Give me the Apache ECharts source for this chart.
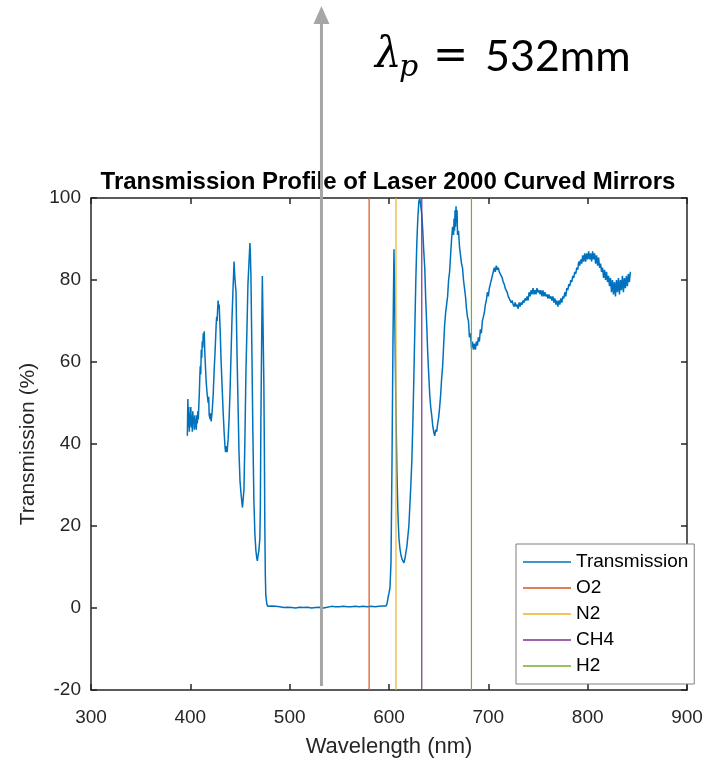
<!DOCTYPE html>
<html>
<head>
<meta charset="utf-8">
<script src="https://cdn.jsdelivr.net/npm/echarts@6/dist/echarts.min.js"></script>
<style>
  html, body { margin: 0; padding: 0; background: #ffffff; }
  #chart { width: 707px; height: 762px; }
</style>
</head>
<body>
<div id="chart"></div>
<script>
// Measured transmission of the curved mirrors: [wavelength nm, transmission %]
const transmissionCurve = [
  [397,42],[397.5,51],[398,44],[398.5,49],[399,43],[399.5,47.5],[400,44.5],[400.5,49],[401,44],[401.5,47],
  [402,43],[402.5,48],[403,45],[403.5,46.5],[404,43.5],[404.5,47],[405,44],[405.5,46],[406,43.5],[406.5,47],
  [407,45],[407.5,48],[408,46],[408.5,49],[409,52],[409.5,56],[410,59],[410.5,57],[411,63],[411.5,61],
  [412,65],[412.5,63.5],[413,67],[413.5,65.5],[414,67.5],[414.5,63],[415,60],[416,55],[417,52],[418,50],
  [418.5,51.5],[419,47],[420,46],[420.5,47.5],[421,45.5],[422,48],[423,52],[424,58],[425,63],[426,69],
  [426.5,71],[427,70],[427.5,73],[428,75],[428.5,73],[429,74],[430,68],[431,60],[432,54],[433,48],
  [434,43],[435,39],[435.5,38],[436,39.5],[437,38],[438,41],[439,46],[440,53],[441,62],[442,71],
  [443,78],[443.5,81],[444,84.5],[444.5,82],[445,80],[446,77],[447,62],[448,50],[449,38],[450,31],
  [451,28],[452,25.5],[452.5,24.5],[453,26],[454,29],[455,42],[456,58],[457,68],[458,79],[459,84],
  [460,89],[460.5,86],[461,81],[462,62],[463,42],[464,26],[465,18],[466,14],[467,12],[467.5,11.5],
  [468,12.5],[469,14],[470,17],[470.5,25],[471,45],[472,70],[472.5,81],[473.3,81],[474,55],[474.5,40],
  [475,20],[475.5,8],[476,3],[477,1],[478,0.4],
  [480,0.1],[482,0.5],[484,0.2],[486,0.4],[488,0.0],[490,0.3],[492,0.5],[494,0.1],[496,0.4],[498,0.2],
  [500,0.5],[502,0.1],[504,0.3],[506,0.0],[508,0.4],[510,0.2],[512,0.5],[514,0.1],[516,0.3],[518,0.2],
  [520,0.4],[522,0.0],[524,0.3],[526,0.1],[528,0.4],[530,0.2],[532,0.3],[534,0.0],[536,0.4],[538,0.2],
  [540,0.1],[542,0.4],[544,0.2],[546,0.3],[548,0.0],[550,0.3],[552,0.1],[554,0.4],[556,0.2],[558,0.3],
  [560,0.1],[562,0.3],[564,0.2],[566,0.4],[568,0.1],[570,0.3],[572,0.2],[574,0.4],[576,0.2],[578,0.3],
  [580,0.1],[582,0.4],[584,0.2],[586,0.3],[588,0.3],[590,0.4],[592,0.3],[594,0.5],[596,0.4],
  [597,0.5],[598,1],[599,2.5],[600,3.6],[601,5],[602,11],[603,35],[604,65],[605,87.5],[605.5,80],
  [606,68],[607,48],[608,33],[609,23],[610,17],[611,14.5],[612,13],[613,12],[614,11.5],[615,11],
  [616,12],[617,13.5],[618,15],[619,17.5],[620,20],[621,25],[622,30],[623,36],[624,45],[625,56],
  [626,68],[627,80],[628,89],[629,95],[630,99],[631,100],[632,100],[633,96],[634,92],[635,87],
  [636,83],[637,75],[638,69],[639,62],[640,57],[641,52],[642,49],[643,47],[644,44.5],[645,43],
  [646,42],[647,43.5],[648,43],[649,45],[650,46.5],[651,49],[652,52],[653,56],[654,59],[655,64],
  [656,69],[657,72],[658,74],[659,76],[660,80],[661,82],[662,86],[663,90],[664,93],[665,91],
  [665.5,95],[666,92],[666.5,97],[667,93],[667.5,98],[668,94],[668.5,97],[669,91],[670,92],[671,88],
  [672,86],[673,84],[674,83],[675,80],[676,78],[677,76],[678,73],[679,71],[680,70],[681,66],
  [682,67],[683,63.5],[684,65],[685,63],[686,64.5],[687,63],[688,65],[689,64],[690,66],[691,65],
  [692,68],[693,67],[694,70],[695,71],[696,72],[697,74],[698,75],[699,77],[700,76],[701,78],
  [702,79],[703,80],[704,81],[705,82],[706,83],[707,82],[708,83.5],[709,82.5],[710,83],[711,82],
  [712,82],[713,81],[714,80.5],[715,79.5],[716,79],[717,78],[718,78],[719,77],[720,76],[721,75.5],
  [722,75.5],[723,74.5],[724,75],[725,74],[726,73.5],[727,74.5],[728,73.5],[729,74],[730,73],[731,74.5],
  [732,73.5],[733,74.5],[734,74],[735,75],[736,74.5],[737,75.5],[738,75],[739,76],[740,75],[741,77],
  [742,76],[743,77.5],[744,76.5],[745,78],[746,76.5],[747,77.5],[748,76.5],[749,78],[750,77],[751,77.5],
  [752,76.5],[753,77.5],[754,76],[755,77.5],[756,76],[757,77],[758,76],[759,76.5],[760,75.5],[761,76.5],
  [762,75.5],[763,76],[764,75],[765,76],[766,74.5],[767,75.5],[768,74],[769,75],[770,73.5],[771,75],
  [772,74],[773,75.5],[774,74.5],[775,76],[776,75.5],[777,77],[778,76],[779,78],[780,77.5],[781,79],
  [782,78.5],[783,80],[784,79.5],[785,81],[786,80.5],[787,82],[788,81.5],[789,83],[790,82.5],[791,84.5],
  [792,83.5],[793,85],[794,84],[795,86],[796,84.5],[797,86.5],[798,84.5],[799,86.5],[800,85],[801,87],
  [802,85],[803,86.5],[804,84.5],[805,87],[806,85],[807,86.5],[808,84],[809,86],[810,83.5],[811,85.5],
  [812,83],[813,84],[814,82],[815,83],[816,80.5],[817,82.5],[818,80],[819,82],[820,79.5],[821,81],
  [822,78.5],[823,80.5],[824,77],[825,80],[826,76.5],[827,79.5],[828,76],[829,80],[830,77],[831,80.5],
  [832,76.5],[833,80],[834,77.5],[835,81],[836,77],[837,80.5],[838,78],[839,81],[840,78.5],[841,81.5],
  [842,79.5],[843,82]
];

// Raman lines of the gases (nm) and their colours
const gasNames = ['O2', 'N2', 'CH4', 'H2'];
const gasWavelengths = [580, 607, 633, 683];
const gasColors = ['#D95319', '#EDB120', '#7E2F8E', '#77AC30'];

// Pump laser wavelength marked by the arrow
const pumpWavelength = 532;

// Axis ranges and tick spacing
const xRange = [300, 900], xStep = 100;
const yRange = [-20, 100], yStep = 20;

const FONT = '"Liberation Sans", Arial, Helvetica, sans-serif';
const AX = '#262626';

function frameAxis(pos, range, step, labelled, extra) {
  return Object.assign({
    type: 'value',
    position: pos,
    min: range[0], max: range[1], interval: step,
    axisLine: { show: true, onZero: false, lineStyle: { color: AX, width: 1.5 } },
    axisTick: { show: true, inside: true, length: 6, lineStyle: { color: AX, width: 1.5 } },
    axisLabel: { show: labelled, fontSize: 19, color: AX, fontFamily: FONT },
    splitLine: { show: false }
  }, extra || {});
}

const series = [{
  name: 'Transmission',
  type: 'line',
  data: transmissionCurve,
  symbol: 'none',
  lineStyle: { color: '#0072BD', width: 1.5 },
  itemStyle: { color: '#0072BD' },
  clip: true
}];
gasNames.forEach((name, i) => {
  series.push({
    name: name,
    type: 'line',
    data: [[gasWavelengths[i], yRange[0]], [gasWavelengths[i], yRange[1]]],
    symbol: 'none',
    lineStyle: { color: gasColors[i], width: 1.2 },
    itemStyle: { color: gasColors[i] }
  });
});

const chart = echarts.init(document.getElementById('chart'), null, { renderer: 'canvas' });
chart.setOption({
  animation: false,
  backgroundColor: '#ffffff',
  title: {
    text: 'Transmission Profile of Laser 2000 Curved Mirrors',
    left: 388, top: 170, padding: 0, textAlign: 'center',
    textStyle: { fontSize: 24, fontWeight: 'bold', color: '#000', fontFamily: FONT }
  },
  grid: { left: 91, right: 20, top: 198, bottom: 72, containLabel: false, outerBoundsMode: 'none' },
  xAxis: [
    frameAxis('bottom', xRange, xStep, true, {
      name: 'Wavelength (nm)', nameLocation: 'middle', nameGap: 46,
      nameTextStyle: { fontSize: 22, color: AX, fontFamily: FONT },
      axisLabel: { show: true, fontSize: 19, color: AX, fontFamily: FONT, margin: 18 }
    }),
    frameAxis('top', xRange, xStep, false)
  ],
  yAxis: [
    frameAxis('left', yRange, yStep, true, {
      name: 'Transmission (%)', nameLocation: 'middle', nameGap: 52,
      nameTextStyle: { fontSize: 21, color: AX, fontFamily: FONT },
      axisLabel: { show: true, fontSize: 19, color: AX, fontFamily: FONT, margin: 10 }
    }),
    frameAxis('right', yRange, yStep, false)
  ],
  legend: {
    data: ['Transmission'].concat(gasNames),
    orient: 'vertical',
    left: 516, top: 544,
    backgroundColor: '#ffffff',
    borderColor: '#7f7f7f', borderWidth: 1, borderRadius: 0,
    padding: [8, 6, 8, 7],
    itemGap: 6, itemWidth: 48, itemHeight: 1.5,
    icon: 'rect',
    textStyle: { fontSize: 19, lineHeight: 20, color: '#000', fontFamily: FONT }
  },
  series: series
});

// Pump arrow and its label, placed over the plot
const base = chart.convertToPixel({ gridIndex: 0 }, [pumpWavelength, -19]);
const ax = base[0];
chart.setOption({
  graphic: [
    { type: 'line', z: 100, shape: { x1: ax, y1: base[1], x2: ax, y2: 22 },
      style: { stroke: '#a6a6a6', lineWidth: 3 } },
    { type: 'polygon', z: 100, shape: { points: [[ax, 6], [ax - 8, 24], [ax + 8, 24]] },
      style: { fill: '#a6a6a6' } },
    { type: 'text', z: 100, x: 375, y: 56,
      style: { text: 'λ', font: 'italic 42px "DejaVu Serif", "Liberation Serif", serif', fill: '#000', verticalAlign: 'middle' } },
    { type: 'text', z: 100, x: 399, y: 68,
      style: { text: 'p', font: 'italic 30px "DejaVu Serif", "Liberation Serif", serif', fill: '#000', verticalAlign: 'middle' } },
    { type: 'text', z: 100, x: 433, y: 57,
      style: { text: '=', font: '42px "DejaVu Sans", sans-serif', fill: '#000', verticalAlign: 'middle' } },
    { type: 'text', z: 100, x: 485, y: 57,
      style: { text: '532mm', font: '43px Lato, "Open Sans", sans-serif', fill: '#000', verticalAlign: 'middle' } }
  ]
});
</script>
</body>
</html>
